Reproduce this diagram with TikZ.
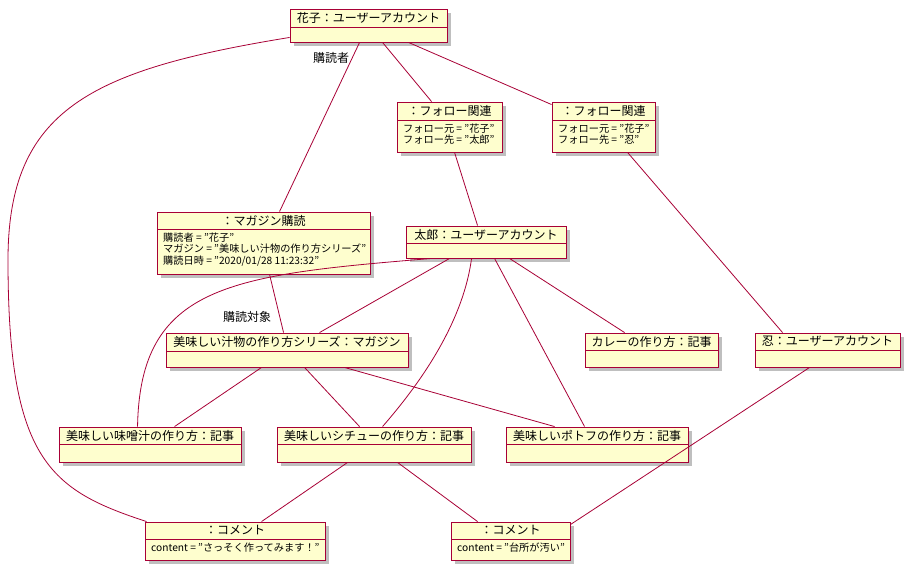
\documentclass[tikz,border=0pt]{standalone}
\usepackage{fontspec}
\setmainfont{Noto Sans CJK JP}
\usetikzlibrary{shadows}
\definecolor{umlred}{HTML}{A80036}
\definecolor{umlfill}{HTML}{FEFECE}
\tikzset{
  objbox/.style={draw=umlred, fill=umlfill, line width=0.9pt, inner sep=0pt,
    drop shadow={shadow xshift=3.5pt, shadow yshift=-3.5pt, opacity=0.45, fill=black!55}},
  objline/.style={draw=umlred, line width=0.9pt},
  objtitle/.style={font=\fontsize{12}{14}\selectfont, inner sep=0pt},
  objattr/.style={font=\fontsize{10.2}{11.5}\selectfont, inner sep=0pt, align=left, anchor=north west},
  link/.style={draw=umlred, line width=0.8pt},
  rolelabel/.style={font=\fontsize{12}{14}\selectfont, inner sep=0pt}
}
% name, x1, y1, x2, y2, separator y, title, attributes
\newcommand\umlobj[8]{%
  \node[objbox, minimum width={(#4-#2)*1pt}, minimum height={(#5-#3)*1pt}] (#1) at ({(#2+#4)/2},{(#3+#5)/2}) {};
  \draw[objline] (#2,#6) -- (#4,#6);
  \node[objtitle] (#1-t) at ({(#2+#4)/2},{(#3+#6)/2}) {#7};
  \node[objattr] (#1-a) at ({#2+6},{#6+3.5}) {#8};
}
\begin{document}
\begin{tikzpicture}[x=1pt,y=-1pt]
\useasboundingbox (0,0) rectangle (910,568);
\fill[white] (0,0) rectangle (910,568);

\umlobj{hanako}{290}{9}{447}{42}{27}{花子：ユーザーアカウント}{}
\umlobj{fa}{397}{102}{502}{152}{120}{：フォロー関連}{フォロー元 = "花子"\\フォロー先 = "太郎"}
\umlobj{fb}{552}{102}{655}{152}{120}{：フォロー関連}{フォロー元 = "花子"\\フォロー先 = "忍"}
\umlobj{sub}{157}{212}{370}{274}{229}{：マガジン購読}{購読者 = "花子"\\マガジン = "美味しい汁物の作り方シリーズ"\\購読日時 = "2020/01/28 11:23:32"}
\umlobj{taro}{406}{226}{566}{258}{243}{太郎：ユーザーアカウント}{}
\umlobj{series}{166}{333}{408}{367}{351}{美味しい汁物の作り方シリーズ：マガジン}{}
\umlobj{curry}{585}{333}{718}{367}{350}{カレーの作り方：記事}{}
\umlobj{shinobu}{755}{333}{900}{367}{350}{忍：ユーザーアカウント}{}
\umlobj{miso}{59}{427}{241}{462}{444}{美味しい味噌汁の作り方：記事}{}
\umlobj{stew}{277}{427}{471}{462}{444}{美味しいシチューの作り方：記事}{}
\umlobj{potofu}{506}{427}{688}{462}{444}{美味しいポトフの作り方：記事}{}
\umlobj{ca}{145}{522}{325}{560}{539}{：コメント}{content = "さっそく作ってみます！"}
\umlobj{cb}{451}{522}{570}{560}{539}{：コメント}{content = "台所が汚い"}

% connectors
\draw[link] ([xshift=70pt]hanako.south west) -- ([xshift=123pt]sub.north west);
\draw[link] ([xshift=93pt]hanako.south west) -- ([xshift=35pt]fa.north west);
\draw[link] ([xshift=119pt]hanako.south west) -- ([yshift=-3pt]fb.north west);
\draw[link] ([yshift=5pt]hanako.south west) .. controls (90,70) and (8,110) .. (8,260)
  .. controls (8,460) and (50,490) .. ([xshift=2pt]ca.north west);
\draw[link] ([xshift=58pt]fa.south west) -- ([xshift=72pt]taro.north west);
\draw[link] ([xshift=76pt]fb.south west) -- ([xshift=28pt]shinobu.north west);
\draw[link] ([xshift=113pt]sub.south west) -- ([xshift=118pt]series.north west);
\draw[link] ([xshift=26pt]taro.south west) .. controls (230,275) and (140,285) .. ([xshift=79pt]miso.north west);
\draw[link] ([xshift=44pt]taro.south west) -- ([xshift=154pt]series.north west);
\draw[link] ([xshift=66pt]taro.south west) .. controls (462,330) and (410,395) .. ([xshift=106pt]stew.north west);
\draw[link] ([xshift=89pt]taro.south west) -- ([xshift=79pt]potofu.north west);
\draw[link] ([xshift=104pt]taro.south west) -- ([xshift=40pt]curry.north west);
\draw[link] ([xshift=96pt]series.south west) -- ([xshift=116pt]miso.north west);
\draw[link] ([xshift=139pt]series.south west) -- ([xshift=83pt]stew.north west);
\draw[link] ([xshift=179pt]series.south west) -- ([xshift=49pt]potofu.north west);
\draw[link] ([xshift=71pt]stew.south west) -- ([xshift=117pt]ca.north west);
\draw[link] ([xshift=121pt]stew.south west) -- ([xshift=27pt]cb.north west);
\draw[link] ([xshift=55pt]shinobu.south west) -- ([yshift=-3pt]cb.north east);

% role labels
\node[rolelabel] (lbl1) at (331,58) {購読者};
\node[rolelabel] (lbl2) at (247,317) {購読対象};
\end{tikzpicture}
\end{document}
